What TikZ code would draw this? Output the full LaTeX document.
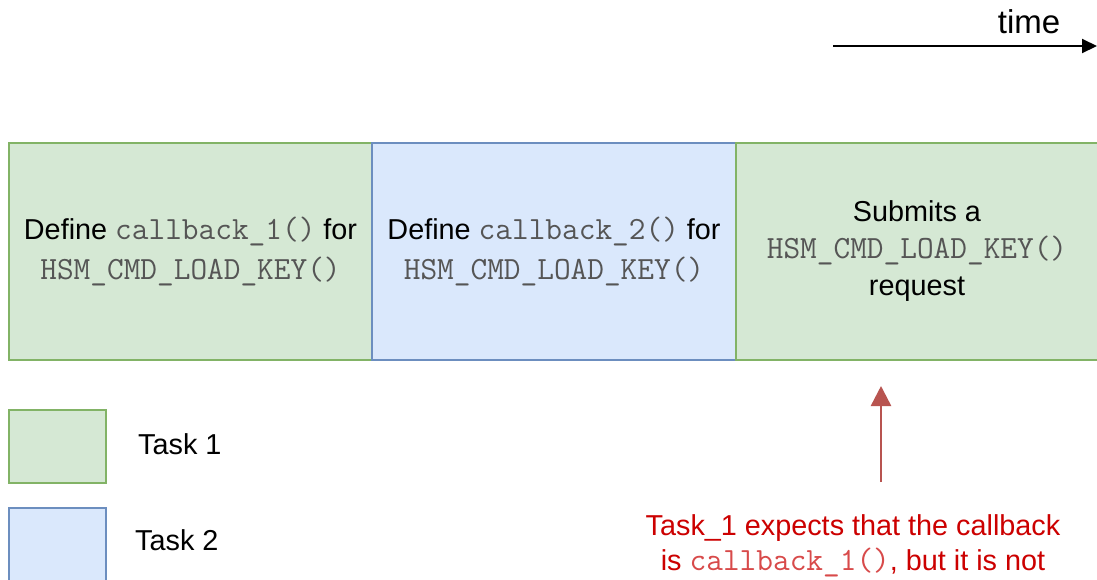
\documentclass[tikz,border=0pt]{standalone}
\usepackage{fontspec}
\setmainfont{Liberation Sans}
\usepackage{tikz}
\usetikzlibrary{positioning, arrows.meta}
\definecolor{taskonefill}{HTML}{D5E8D4}
\definecolor{taskoneline}{HTML}{82B366}
\definecolor{tasktwofill}{HTML}{DAE8FC}
\definecolor{tasktwoline}{HTML}{6C8EBF}
\definecolor{codegray}{HTML}{555555}
\definecolor{notered}{HTML}{CC0000}
\definecolor{codered}{HTML}{D84A4A}
\definecolor{arrowred}{HTML}{B85450}
\tikzset{
  >={Triangle[length=15pt, width=14pt]},
  taskone/.style={draw=taskoneline, fill=taskonefill, line width=2pt, align=center, inner sep=0pt, outer sep=0pt},
  tasktwo/.style={draw=tasktwoline, fill=tasktwofill, line width=2pt, align=center, inner sep=0pt, outer sep=0pt},
  legend/.style={minimum width=97pt, minimum height=73pt},
  slot/.style={minimum width=363pt, minimum height=217pt, text depth=6pt},
  label/.style={inner sep=0pt, font=\fontsize{28.8}{35}\selectfont},
}
\newcommand{\fn}[1]{{\fontsize{32.4}{32}\selectfont\ttfamily\color{codegray}#1}}
\newcommand{\fnred}[1]{{\fontsize{32.4}{32}\selectfont\ttfamily\color{codered}#1}}

\begin{document}
\begin{tikzpicture}[x=1pt, y=-1pt, node distance=30pt]
  \useasboundingbox[fill=white] (0,0) rectangle (1097,579);
  % time line
  \coordinate (t0) at (833,46);
  \coordinate (t1) at (1097,46);
  \draw[->, line width=2pt] (t0) -- (t1);
  \node[label, font=\fontsize{33}{33}\selectfont] (time) at (1029,22) {time};

  % the three steps
  \node[taskone, slot, font=\fontsize{28.8}{40}\selectfont] (def1) at (190.5,251.5)
    {Define \fn{callback\_1()} for\\ \fn{HSM\_CMD\_LOAD\_KEY()}};
  \node[tasktwo, slot, font=\fontsize{28.8}{40}\selectfont, minimum width=364pt, right=0pt of def1] (def2)
    {Define \fn{callback\_2()} for\\ \fn{HSM\_CMD\_LOAD\_KEY()}};
  \node[taskone, slot, font=\fontsize{28.8}{37}\selectfont, minimum width=362pt, right=0pt of def2] (req)
    {Submits a\\ \fn{HSM\_CMD\_LOAD\_KEY()}\\ request};

  % legend
  \node[taskone, legend] (leg1) at (57.5,446.5) {};
  \node[tasktwo, legend] (leg2) at (57.5,544) {};
  \node[label, anchor=west] (lab1) at (138,444) {Task 1};
  \node[label, anchor=west] (lab2) at (135,540) {Task 2};

  % the note
  \node[label, text=notered, align=center] (note) at (853,546)
    {Task\_1 expects that the callback\\ is \fnred{callback\_1()}, but it is not};
  \coordinate (tip) at (881,386);
  \coordinate (foot) at (881,482);
  \draw[->, arrowred, line width=2.5pt, >={Triangle[length=20pt, width=20pt]}] (foot) -- (tip);
\end{tikzpicture}
\end{document}
